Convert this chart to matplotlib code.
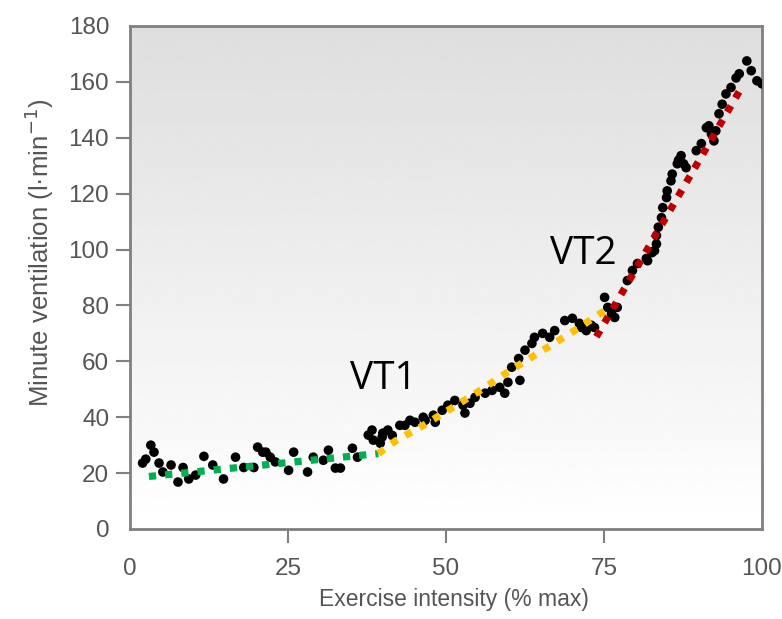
import matplotlib.pyplot as plt
import numpy as np

# Minute ventilation vs exercise intensity, with the two ventilatory thresholds
intensity = [2.0, 2.5, 3.3, 3.8, 4.6, 5.2, 6.5, 7.6, 8.4, 9.3, 10.4, 11.7, 13.1, 14.8,
             16.7, 18.0, 19.6, 20.2, 21.0, 21.5, 22.2, 23.0, 25.1, 25.9, 28.1, 29.0,
             30.6, 31.4, 32.5, 33.3, 35.2, 36.0, 37.7, 38.3, 38.5, 39.6, 39.9, 40.0,
             40.8, 41.5, 42.7, 43.5, 44.3, 45.1, 46.4, 46.7, 48.0, 48.3, 49.4, 50.3,
             51.4, 52.7, 53.0, 53.8, 54.6, 56.2, 57.3, 58.5, 59.3, 59.8, 60.4, 61.5,
             61.7, 62.5, 63.6, 64.0, 65.3, 66.4, 67.2, 68.8, 70.0, 71.1, 71.5, 72.2,
             73.0, 73.5, 75.1, 75.6, 76.2, 76.7, 77.1, 78.7, 79.5, 80.3, 81.7, 81.9,
             82.6, 83.0, 83.3, 83.3, 83.6, 84.1, 84.3, 84.9, 85.0, 85.6, 85.8, 86.6,
             86.8, 87.2, 87.6, 88.0, 89.6, 90.4, 91.2, 91.6, 92.0, 92.4, 92.7, 93.2,
             93.7, 94.3, 95.1, 95.9, 96.4, 97.6, 98.3, 99.2, 100.0]
ventilation = [23.6, 25.0, 30.0, 27.5, 23.6, 20.4, 22.9, 16.8, 22.0, 17.9, 19.3, 26.0,
               22.9, 17.9, 25.7, 22.0, 22.0, 29.3, 27.5, 27.5, 25.7, 24.0, 21.0, 27.5,
               20.4, 25.7, 24.6, 28.2, 21.8, 21.8, 28.9, 25.7, 33.6, 35.4, 31.8, 30.7,
               32.9, 34.3, 35.4, 33.5, 37.1, 37.1, 38.9, 38.2, 40.0, 38.9, 40.7, 38.2,
               42.5, 44.3, 46.0, 44.3, 41.5, 45.0, 47.1, 48.6, 49.6, 50.7, 48.6, 52.5,
               57.9, 61.0, 53.2, 64.0, 66.4, 68.6, 70.0, 68.6, 71.0, 74.6, 75.4, 73.6,
               72.1, 71.0, 72.9, 72.1, 82.9, 79.3, 77.0, 75.7, 79.3, 88.9, 92.5, 95.0,
               96.8, 96.0, 98.9, 99.6, 102.0, 105.0, 108.0, 111.4, 115.0, 118.6, 121.0,
               124.6, 127.0, 130.7, 132.0, 133.6, 130.7, 129.3, 135.4, 137.9, 143.6,
               144.3, 141.4, 138.9, 142.5, 148.6, 152.0, 155.7, 158.0, 161.4, 162.9,
               167.5, 164.0, 160.4, 159.3]

# fitted segments
green_x = [3.0, 39.3]
green_y = [18.8, 27.0]
orange_x = [39.3, 42.0, 46.0, 50.0, 55.0, 60.0, 65.0, 70.0, 75.0]
orange_y = [27.0, 31.5, 36.5, 42.0, 49.0, 56.5, 63.5, 70.5, 78.0]
red_x = [73.8, 96.9]
red_y = [68.8, 158.5]

fig = plt.figure(figsize=(7.82, 6.19), dpi=100)
ax = fig.add_axes([0.1662, 0.1454, 0.8082, 0.8126])

# grey at the top fading to white at the bottom
grad = np.linspace(0.87, 1.0, 256).reshape(-1, 1)
ax.imshow(grad, cmap='gray', vmin=0, vmax=1, aspect='auto', origin='upper',
          extent=[0, 100, 0, 180], zorder=0)

ax.scatter(intensity, ventilation, s=48, color='black', edgecolors='none', zorder=3)

dots = dict(linewidth=5.2, dashes=(1, 1.25), dash_capstyle='butt', zorder=4)
ax.plot(green_x, green_y, color='#00b050', **dots)
ax.plot(orange_x, orange_y, color='#ffc000', **dots)
ax.plot(red_x, red_y, color='#c00000', **dots)

ax.text(34.8, 50, 'VT1', fontsize=28, family='Open Sans', color='black')
ax.text(66.5, 95, 'VT2', fontsize=28, family='Open Sans', color='black')

ax.set_xlim(0, 100)
ax.set_ylim(0, 180)
ax.set_xticks([0, 25, 50, 75, 100])
ax.set_yticks(range(0, 181, 20))

grey = '#808080'
for s in ax.spines.values():
    s.set_color(grey)
    s.set_linewidth(2)
ax.tick_params(axis='both', direction='out', length=10, width=1.5, color=grey,
               labelcolor='#555555', labelsize=17.5)
ax.tick_params(axis='x', pad=11)
ax.tick_params(axis='y', pad=5)
for t in (ax.xaxis.get_major_ticks()[0], ax.xaxis.get_major_ticks()[-1],
          ax.yaxis.get_major_ticks()[0], ax.yaxis.get_major_ticks()[-1]):
    t.tick1line.set_visible(False)
for lbl in ax.get_xticklabels() + ax.get_yticklabels():
    lbl.set_family('Liberation Sans')

ax.set_xlabel('Exercise intensity (% max)', fontsize=16.5, color='#555555',
              family='Liberation Sans')
ax.set_ylabel('Minute ventilation (l·min$^{-1}$)', fontsize=18.5, color='#555555',
              family='Liberation Sans')
ax.xaxis.set_label_coords(0.513, -0.118)
ax.yaxis.set_label_coords(-0.117, 0.55)

fig.savefig('out.png', dpi=100)
